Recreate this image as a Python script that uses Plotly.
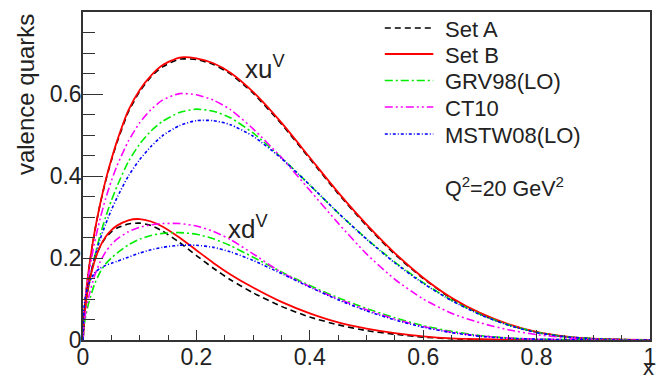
import plotly.graph_objects as go

# ---------------- data ----------------
x_grid = [0, 0.002, 0.005, 0.01, 0.02, 0.03, 0.04, 0.05, 0.06, 0.08, 0.1, 0.12, 0.14,
          0.17, 0.2, 0.23, 0.26, 0.3, 0.35, 0.4, 0.45, 0.5, 0.55, 0.6, 0.65, 0.7,
          0.75, 0.8, 0.85, 0.9, 0.95, 1.0]

setA_u = [0, 0.06, 0.11, 0.17, 0.26, 0.33, 0.388, 0.438, 0.482, 0.556, 0.606, 0.642, 0.666,
          0.685, 0.684, 0.672, 0.649, 0.602, 0.527, 0.442, 0.357, 0.279, 0.209, 0.15, 0.101,
          0.064, 0.037, 0.019, 0.008, 0.003, 0.001, 0]
setB_u = [0, 0.06, 0.11, 0.17, 0.26, 0.33, 0.39, 0.44, 0.485, 0.56, 0.61, 0.645, 0.67,
          0.689, 0.687, 0.675, 0.652, 0.605, 0.53, 0.445, 0.36, 0.282, 0.212, 0.152, 0.103,
          0.066, 0.039, 0.02, 0.009, 0.003, 0.001, 0]
grv_u = [0, 0.05, 0.085, 0.13, 0.2, 0.255, 0.3, 0.34, 0.375, 0.435, 0.478, 0.51, 0.533,
         0.555, 0.563, 0.558, 0.542, 0.505, 0.445, 0.378, 0.31, 0.247, 0.19, 0.14, 0.097,
         0.063, 0.037, 0.019, 0.008, 0.003, 0.001, 0]
ct10_u = [0, 0.07, 0.11, 0.16, 0.235, 0.295, 0.345, 0.388, 0.425, 0.485, 0.53, 0.562, 0.585,
          0.601, 0.598, 0.585, 0.562, 0.515, 0.445, 0.365, 0.285, 0.21, 0.148, 0.1, 0.065,
          0.042, 0.025, 0.013, 0.006, 0.002, 0.0005, 0]
mstw_u = [0, 0.07, 0.1, 0.14, 0.2, 0.245, 0.283, 0.317, 0.347, 0.4, 0.44, 0.472, 0.498,
          0.523, 0.535, 0.535, 0.525, 0.497, 0.443, 0.378, 0.31, 0.246, 0.188, 0.138, 0.096,
          0.062, 0.036, 0.018, 0.008, 0.003, 0.001, 0]

setA_d = [0, 0.055, 0.095, 0.14, 0.193, 0.228, 0.25, 0.264, 0.273, 0.283, 0.285, 0.279, 0.266,
          0.238, 0.206, 0.175, 0.147, 0.115, 0.082, 0.056, 0.037, 0.023, 0.014, 0.007, 0.003,
          0.001, 0, 0, 0, 0, 0, 0]
setB_d = [0, 0.05, 0.09, 0.135, 0.19, 0.228, 0.252, 0.268, 0.279, 0.292, 0.295, 0.289, 0.277,
          0.25, 0.219, 0.188, 0.16, 0.128, 0.093, 0.065, 0.043, 0.028, 0.017, 0.009, 0.004,
          0.002, 0.001, 0, 0, 0, 0, 0]
grv_d = [0, 0.035, 0.06, 0.09, 0.135, 0.165, 0.186, 0.2, 0.212, 0.232, 0.246, 0.255, 0.26,
         0.262, 0.258, 0.247, 0.23, 0.202, 0.166, 0.133, 0.103, 0.077, 0.054, 0.035, 0.021,
         0.011, 0.005, 0.002, 0.001, 0, 0, 0]
ct10_d = [0, 0.04, 0.07, 0.105, 0.155, 0.19, 0.215, 0.233, 0.246, 0.264, 0.275, 0.281, 0.284,
          0.284, 0.278, 0.265, 0.245, 0.21, 0.165, 0.13, 0.1, 0.074, 0.051, 0.033, 0.019,
          0.01, 0.005, 0.002, 0.001, 0, 0, 0]
mstw_d = [0, 0.08, 0.11, 0.135, 0.163, 0.175, 0.182, 0.187, 0.192, 0.202, 0.212, 0.22, 0.226,
          0.231, 0.231, 0.226, 0.215, 0.194, 0.162, 0.129, 0.098, 0.071, 0.049, 0.031, 0.018,
          0.009, 0.004, 0.002, 0.001, 0, 0, 0]

series_names = ["Set A", "Set B", "GRV98(LO)", "CT10", "MSTW08(LO)"]
u_values = [setA_u, setB_u, grv_u, ct10_u, mstw_u]
d_values = [setA_d, setB_d, grv_d, ct10_d, mstw_d]

x_ticks = [0, 0.2, 0.4, 0.6, 0.8, 1]
x_ticklabels = ["0", "0.2", "0.4", "0.6", "0.8", "1"]
y_ticks = [0, 0.2, 0.4, 0.6]
y_ticklabels = ["0", "0.2", "0.4", "0.6"]

# ---------------- styles ----------------
styles = [
    dict(color="#000000", width=1.6, dash="6px,4px"),
    dict(color="#ff0000", width=1.8, dash="solid"),
    dict(color="#00ee00", width=1.6, dash="8px,3px,2px,3px"),
    dict(color="#ff00ff", width=1.6, dash="8px,3px,2px,3px,2px,3px"),
    dict(color="#0000ff", width=1.6, dash="3px,2px,1px,2px"),
]

FONT = "Liberation Sans, Arial, sans-serif"
TXT = "#222222"

# plot-area geometry in pixels (for paper-coordinate placement of decorations)
W, H = 662, 378
L, R, T, B = 83, 6, 12, 38
PW, PH = W - L - R, H - T - B


def px_to_paper_x(px):
    return (px - L) / PW


def py_to_paper_y(py):
    return (H - B - py) / PH


fig = go.Figure()
for name, uv, st in zip(series_names, u_values, styles):
    fig.add_trace(go.Scatter(x=x_grid, y=uv, mode="lines", name=name,
                             line=dict(shape="spline", smoothing=0.6, **st),
                             showlegend=False))
for name, dv, st in zip(series_names, d_values, styles):
    fig.add_trace(go.Scatter(x=x_grid, y=dv, mode="lines", name=name,
                             line=dict(shape="spline", smoothing=0.6, **st),
                             showlegend=False))

axis_common = dict(showgrid=False, zeroline=False, showline=True, linecolor="#333333",
                   linewidth=1.5, mirror=True, ticks="inside", tickcolor="#333333",
                   tickwidth=1.3, tickfont=dict(family=FONT, size=23, color=TXT))

fig.update_xaxes(range=[0, 1], tickvals=x_ticks, ticktext=x_ticklabels, ticklen=10,
                 ticklabelstandoff=-4,
                 minor=dict(dtick=0.05, ticks="inside", ticklen=5, tickcolor="#333333",
                            tickwidth=1.3, showgrid=False),
                 **axis_common)
fig.update_yaxes(range=[0, 0.8], tickvals=y_ticks, ticktext=y_ticklabels, ticklen=20,
                 ticklabelstandoff=-5,
                 minor=dict(dtick=0.05, ticks="inside", ticklen=12, tickcolor="#333333",
                            tickwidth=1.3, showgrid=False),
                 **axis_common)

# ---------------- manual legend (ROOT TLegend look) ----------------
legend_rows_py = [28, 54, 80.5, 107, 134]
shapes = []
annotations = []
for name, st, py in zip(series_names, styles, legend_rows_py):
    shapes.append(dict(type="line", xref="paper", yref="paper",
                       x0=px_to_paper_x(388), x1=px_to_paper_x(437),
                       y0=py_to_paper_y(py), y1=py_to_paper_y(py),
                       line=dict(color=st["color"], width=st["width"], dash=st["dash"])))
    annotations.append(dict(text=name, xref="paper", yref="paper",
                            x=px_to_paper_x(447), y=py_to_paper_y(py + 1),
                            xanchor="left", yanchor="middle", showarrow=False,
                            font=dict(family=FONT, size=22, color=TXT)))

annotations += [
    dict(text="valence quarks", textangle=-90, xref="paper", yref="paper",
         x=px_to_paper_x(25), y=1.0, xanchor="center", yanchor="top", showarrow=False,
         font=dict(family=FONT, size=24, color=TXT)),
    dict(text="x", xref="paper", yref="paper", x=1.0, y=py_to_paper_y(354),
         xanchor="right", yanchor="top", xshift=5, borderpad=0, showarrow=False,
         font=dict(family=FONT, size=22, color=TXT)),
    dict(text="Q<sup>2</sup>=20 GeV<sup>2</sup>", xref="paper", yref="paper",
         x=px_to_paper_x(447), y=py_to_paper_y(187), xanchor="left", yanchor="middle",
         showarrow=False, font=dict(family=FONT, size=21.5, color=TXT)),
    dict(text="xu<sup>V</sup>", xref="x", yref="y", x=0.283, y=0.665,
         xanchor="left", yanchor="middle", showarrow=False,
         font=dict(family=FONT, size=26, color=TXT)),
    dict(text="xd<sup>V</sup>", xref="x", yref="y", x=0.252, y=0.275,
         xanchor="left", yanchor="middle", showarrow=False,
         font=dict(family=FONT, size=26, color=TXT)),
]

fig.update_layout(
    width=W, height=H,
    margin=dict(l=L, r=R, t=T, b=B),
    paper_bgcolor="white", plot_bgcolor="white",
    font=dict(family=FONT, color=TXT),
    showlegend=False,
    shapes=shapes,
    annotations=annotations,
)

fig.write_html("out.html")
